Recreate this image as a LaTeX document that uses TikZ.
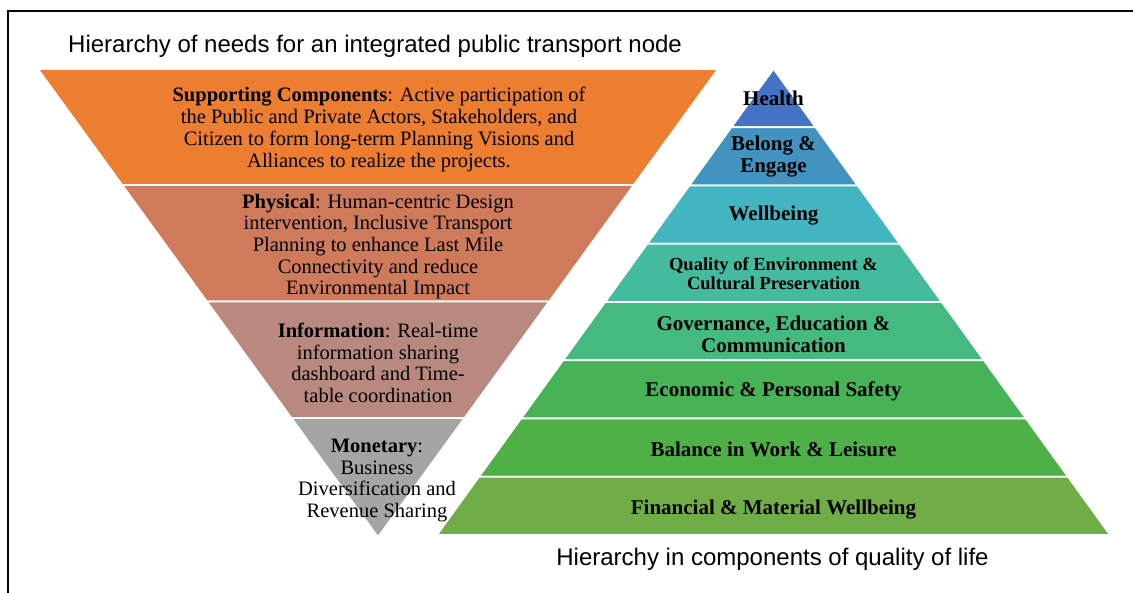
\documentclass[tikz,border=0pt]{standalone}
\usepackage{fontspec}
\setmainfont{Liberation Serif}
\newfontfamily\titlefont{Liberation Sans}
\definecolor{cSupp}{HTML}{ED7D31}
\definecolor{cPhys}{HTML}{D07A5C}
\definecolor{cInfo}{HTML}{B98980}
\definecolor{cMone}{HTML}{A5A5A5}
\definecolor{cHealth}{HTML}{4472C4}
\definecolor{cBelong}{HTML}{4393C1}
\definecolor{cWell}{HTML}{43B5C0}
\definecolor{cQual}{HTML}{44BB9F}
\definecolor{cGov}{HTML}{44BA80}
\definecolor{cEcon}{HTML}{47B357}
\definecolor{cBal}{HTML}{50B048}
\definecolor{cFin}{HTML}{70AD47}
\tikzset{
  band/.style={draw=white, line width=1.6pt, line join=miter},
  lefttext/.style={align=center, inner sep=0pt, font=\fontsize{20.5}{21.7}\selectfont},
  righttext/.style={align=center, inner sep=0pt, font=\fontsize{21}{22}\selectfont\bfseries},
  smalltext/.style={align=center, inner sep=0pt, font=\fontsize{18.5}{19}\selectfont\bfseries},
  caption/.style={inner sep=0pt, font=\fontsize{24}{26}\selectfont\titlefont},
  frameline/.style={line width=2pt, line cap=rect}
}
\begin{document}
\begin{tikzpicture}[x=1pt,y=-1pt]
\useasboundingbox (0,0) rectangle (1133,592);
% frame
\draw[frameline] (8,592) -- (8,11) -- (1140,11);
% inverted triangle (left)
\fill[cSupp, band] (38,69) -- (718,69) -- (633.7,185) -- (122.3,185) -- cycle;
\fill[cPhys, band] (122.3,185) -- (633.7,185) -- (549.1,301.5) -- (206.9,301.5) -- cycle;
\fill[cInfo, band] (206.9,301.5) -- (549.1,301.5) -- (464.5,418) -- (291.5,418) -- cycle;
\fill[cMone, band] (291.5,418) -- (464.5,418) -- (378,537) -- cycle;
% right pyramid
\def\apx{773.5}
\foreach \k/\col in {1/cHealth,2/cBelong,3/cWell,4/cQual,5/cGov,6/cEcon,7/cBal,8/cFin}{
  \pgfmathsetmacro{\ya}{69+58.25*(\k-1)}
  \pgfmathsetmacro{\yb}{69+58.25*\k}
  \pgfmathsetmacro{\ha}{0.7221*(\ya-69)}
  \pgfmathsetmacro{\hb}{0.7221*(\yb-69)}
  \fill[\col, band] ({\apx-\ha},\ya) -- ({\apx+\ha},\ya) -- ({\apx+\hb},\yb) -- ({\apx-\hb},\yb) -- cycle;
}
% titles
\node[caption, anchor=west] (title) at (68,46) {Hierarchy of needs for an integrated public transport node};
\node[caption] (caption) at (772.5,559) {Hierarchy in components of quality of life};
% left texts
\node[lefttext] (supp) at (379,129.5) {\textbf{Supporting Components}: Active participation of\\the Public and Private Actors, Stakeholders, and\\Citizen to form long-term Planning Visions and\\Alliances to realize the projects.};
\node[lefttext] (phys) at (378,246.5) {\textbf{Physical}: Human-centric Design\\intervention, Inclusive Transport\\Planning to enhance Last Mile\\Connectivity and reduce\\Environmental Impact};
\node[lefttext] (info) at (378,363) {\textbf{Information}: Real-time\\information sharing\\dashboard and Time-\\table coordination};
\node[lefttext] (mone) at (377,480.5) {\textbf{Monetary}:\\Business\\Diversification and\\Revenue Sharing};
% right texts
\node[righttext] (health) at (773.5,98.5) {Health};
\node[righttext] (belong) at (773.5,157) {Belong \&\\Engage};
\node[righttext] (well) at (773.5,216) {Wellbeing};
\node[smalltext] (qual) at (773.5,274) {Quality of Environment \&\\Cultural Preservation};
\node[righttext] (gov) at (773.5,334) {Governance, Education \&\\Communication};
\node[righttext] (econ) at (773.5,391.5) {Economic \& Personal Safety};
\node[righttext] (bal) at (773.5,449.5) {Balance in Work \& Leisure};
\node[righttext] (fin) at (773.5,509.5) {Financial \& Material Wellbeing};
\end{tikzpicture}
\end{document}
